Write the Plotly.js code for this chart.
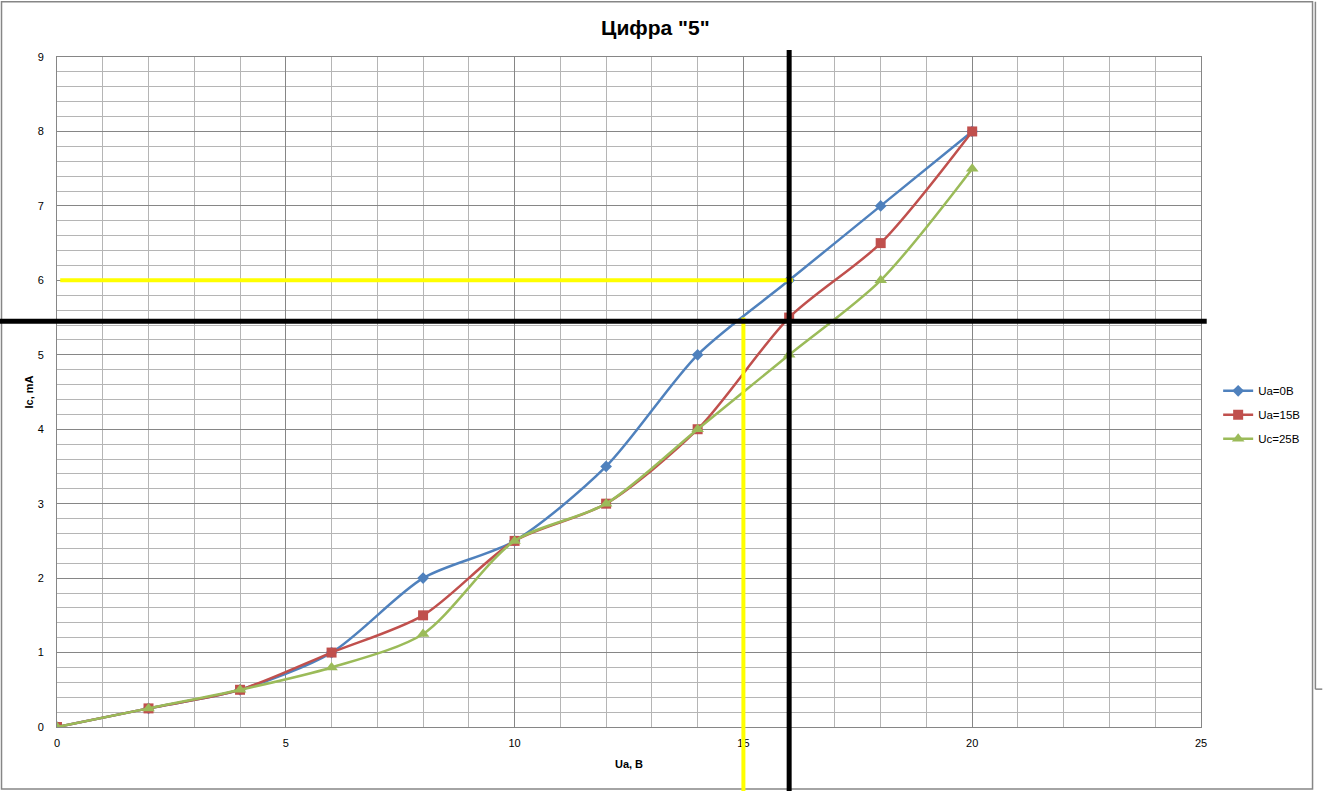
<!DOCTYPE html>
<html>
<head>
<meta charset="utf-8">
<script src="https://cdn.plot.ly/plotly-3.0.1.min.js"></script>
<style>html,body{margin:0;padding:0;background:#fff}#chart{width:1324px;height:791px}</style>
</head>
<body>
<div id="chart"></div>
<script>
// ---- data ----
const uaValues = [0, 2, 4, 6, 8, 10, 12, 14, 16, 18, 20];
const icUa0 = [0, 0.25, 0.5, 1, 2, 2.5, 3.5, 5, 6, 7, 8];
const icUa15 = [0, 0.25, 0.5, 1, 1.5, 2.5, 3, 4, 5.5, 6.5, 8];
const icUc25 = [0, 0.25, 0.5, 0.8, 1.25, 2.5, 3, 4, 5, 6, 7.5];
const seriesNames = ["Ua=0B", "Ua=15B", "Uc=25B"];
// guide lines (data values)
const crossX = 16, crossY = 5.45;
const yellowY = 6, yellowX = 15, yellowVTop = 5.5;
const xRange = [0, 25], yRange = [0, 9];

const colors = ["#4F81BD", "#C0504D", "#9BBB59"];
const symbols = ["diamond", "square", "triangle-up"];
const sizes = [9, 10, 11];
const ys = [icUa0, icUa15, icUc25];

const traces = ys.map((y, i) => ({
  x: uaValues, y: y, name: seriesNames[i], type: "scatter", mode: "lines+markers",
  legendgroup: "g" + i,
  line: {color: colors[i], width: 2.5, shape: "spline", smoothing: 0.8},
  marker: {color: colors[i], symbol: symbols[i], size: sizes[i]}
}));

const font = "Liberation Sans, Arial, sans-serif";
const yPaper = v => (v - yRange[0]) / (yRange[1] - yRange[0]);

const layout = {
  width: 1324, height: 791,
  margin: {l: 57, r: 123, t: 57, b: 64},
  paper_bgcolor: "#fff", plot_bgcolor: "#fff",
  font: {family: font, size: 11, color: "#000"},
  title: {text: "<b>Цифра \"5\"</b>", font: {family: font, size: 21, color: "#000"}, x: 0.495, xanchor: "center", y: 0.965, yanchor: "middle"},
  xaxis: {
    range: xRange, dtick: 5, tick0: 0, showgrid: true, gridcolor: "#868686", gridwidth: 1,
    zeroline: false, showline: true, linecolor: "#868686", linewidth: 1, mirror: true,
    ticks: "", ticklabelstandoff: 6,
    minor: {dtick: 1, showgrid: true, gridcolor: "#b5b5b5", gridwidth: 1},
    title: {text: "<b>Ua, B</b>", font: {size: 11}, standoff: 12}
  },
  yaxis: {
    range: yRange, dtick: 1, tick0: 0, showgrid: true, gridcolor: "#868686", gridwidth: 1,
    zeroline: false, showline: true, linecolor: "#868686", linewidth: 1, mirror: true,
    ticks: "", ticklabelstandoff: 10,
    minor: {dtick: 0.2, showgrid: true, gridcolor: "#b5b5b5", gridwidth: 1},
    title: {text: "<b>Ic, mA</b>", font: {size: 11}, standoff: 1}
  },
  legend: {x: 1.015, xanchor: "left", y: 0.466, yanchor: "middle", font: {size: 11.5},
           bgcolor: "rgba(0,0,0,0)", tracegroupgap: 5, itemwidth: 30},
  shapes: [
    // chart frame
    {type: "rect", xref: "paper", yref: "paper", x0: -0.0485, x1: 1.0975, y0: -0.0925, y1: 1.0825,
     line: {color: "#868686", width: 1.5}, layer: "below"},
    {type: "line", xref: "paper", yref: "paper", x0: 1.1, x1: 1.1, y0: 0.0565, y1: 1.0825,
     line: {color: "#868686", width: 1.5}},
    {type: "line", xref: "paper", yref: "paper", x0: 1.1, x1: 1.106, y0: 0.0565, y1: 0.0565,
     line: {color: "#868686", width: 1.5}},
    // yellow guide lines
    {type: "line", xref: "x", yref: "y", x0: 0.07, x1: crossX + 0.08, y0: yellowY, y1: yellowY,
     line: {color: "#FFFF00", width: 4}},
    {type: "line", xref: "x", yref: "paper", x0: yellowX, x1: yellowX, y0: -0.1, y1: yPaper(yellowVTop),
     line: {color: "#FFFF00", width: 4}},
    // black cross
    {type: "line", xref: "paper", yref: "y", x0: -0.05, x1: 1.005, y0: crossY, y1: crossY,
     line: {color: "#000", width: 5}},
    {type: "line", xref: "x", yref: "paper", x0: crossX, x1: crossX, y0: -0.1, y1: 1.0104,
     line: {color: "#000", width: 5}}
  ]
};

Plotly.newPlot("chart", traces, layout, {displayModeBar: false, staticPlot: true});
</script>
</body>
</html>
